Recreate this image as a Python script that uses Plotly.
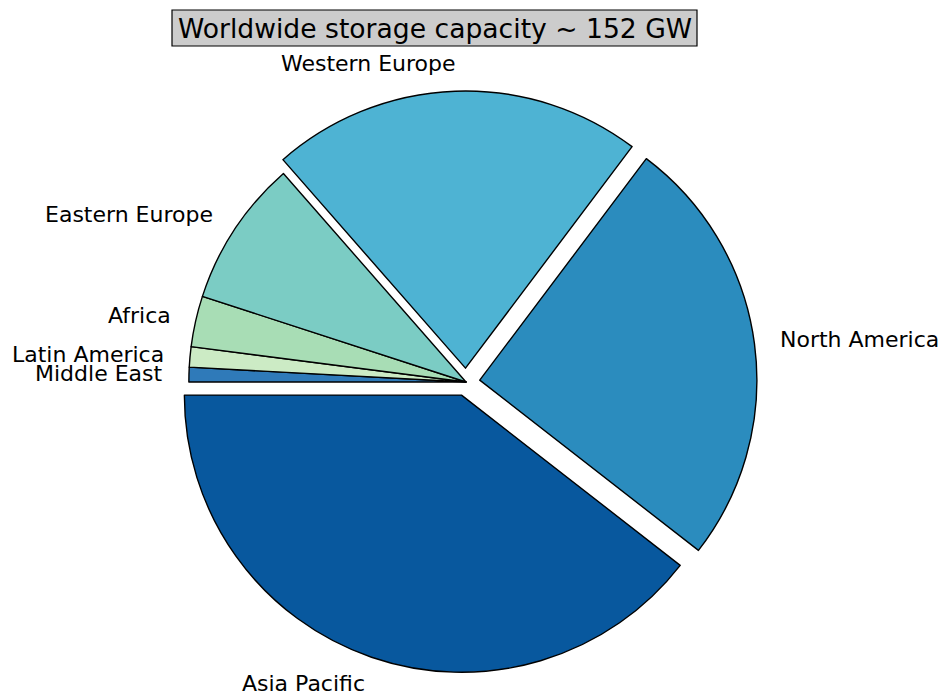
import numpy as np
import plotly.graph_objects as go

# data in matplotlib order (counterclockwise, starting at 9 o'clock)
regions = ["Asia Pacific", "North America", "Western Europe", "Eastern Europe",
           "Africa", "Latin America", "Middle East"]
capacity_gw = [60.0, 38.4, 33.0, 13.0, 4.5, 1.8, 1.3]
explode = [0.05, 0.05, 0.05, 0, 0, 0, 0]
colors = ["#08589e", "#2b8cbe", "#4eb3d3", "#7bccc4", "#a8ddb5", "#ccebc5", "#2f7ab9"]
title_text = "Worldwide storage capacity ~ 152 GW"

W, H = 943, 696
dom_x = [175 / W, 757 / W]
dom_y = [1 - 673 / H, 1 - 91 / H]
start_angle = 180.0
label_distance = 1.1
font_family = "DejaVu Sans"

# plotly draws clockwise, so feed reversed order (same visual arrangement)
fig = go.Figure(go.Pie(
    labels=regions[::-1],
    values=capacity_gw[::-1],
    sort=False,
    direction="clockwise",
    rotation=-90,
    pull=explode[::-1],
    marker=dict(colors=colors[::-1], line=dict(color="black", width=1.4)),
    textinfo="none",
    showlegend=False,
    hoverinfo="label+value",
    domain=dict(x=dom_x, y=dom_y),
))

# labels placed like matplotlib: at labeldistance * r along the mid-angle
wpx = (dom_x[1] - dom_x[0]) * W
hpx = (dom_y[1] - dom_y[0]) * H
r_px = min(wpx, hpx) / 2 / (1 + max(explode))
cx = (dom_x[0] + dom_x[1]) / 2 * W
cy = (dom_y[0] + dom_y[1]) / 2 * H  # from bottom
vals = np.array(capacity_gw, dtype=float)
fr = vals / vals.sum()
theta1 = start_angle + 360 * np.concatenate([[0], np.cumsum(fr)[:-1]])
theta2 = theta1 + 360 * fr
for lab, t1, t2, ex in zip(regions, theta1, theta2, explode):
    tm = np.deg2rad((t1 + t2) / 2)
    d = (label_distance + ex) * r_px
    xt = cx + d * np.cos(tm)
    yt = cy + d * np.sin(tm)
    right_side = np.cos(tm) > 0
    fig.add_annotation(
        text=lab, xref="paper", yref="paper", x=xt / W, y=yt / H,
        showarrow=False, xanchor="left" if right_side else "right",
        xshift=-3 if right_side else 3, borderpad=0,
        yanchor="middle", font=dict(family=font_family, size=22, color="black"),
    )

# title with boxed background
fig.add_shape(type="rect", xref="paper", yref="paper",
              x0=172 / W, x1=697 / W, y0=1 - 46 / H, y1=1 - 10 / H,
              fillcolor="#cccccc", line=dict(color="black", width=1.2), layer="below")
fig.add_annotation(
    text=title_text, xref="paper", yref="paper", x=434.5 / W, y=1 - 28 / H,
    showarrow=False, font=dict(family=font_family, size=26.6, color="black"),
    xanchor="center", yanchor="middle",
)

fig.update_layout(
    width=W, height=H,
    margin=dict(l=0, r=0, t=0, b=0),
    paper_bgcolor="white", plot_bgcolor="white",
)

fig.write_html(
    "out.html",
    config={"displayModeBar": False},
    post_script="document.body.style.margin='0';document.body.style.overflow='hidden';",
)
